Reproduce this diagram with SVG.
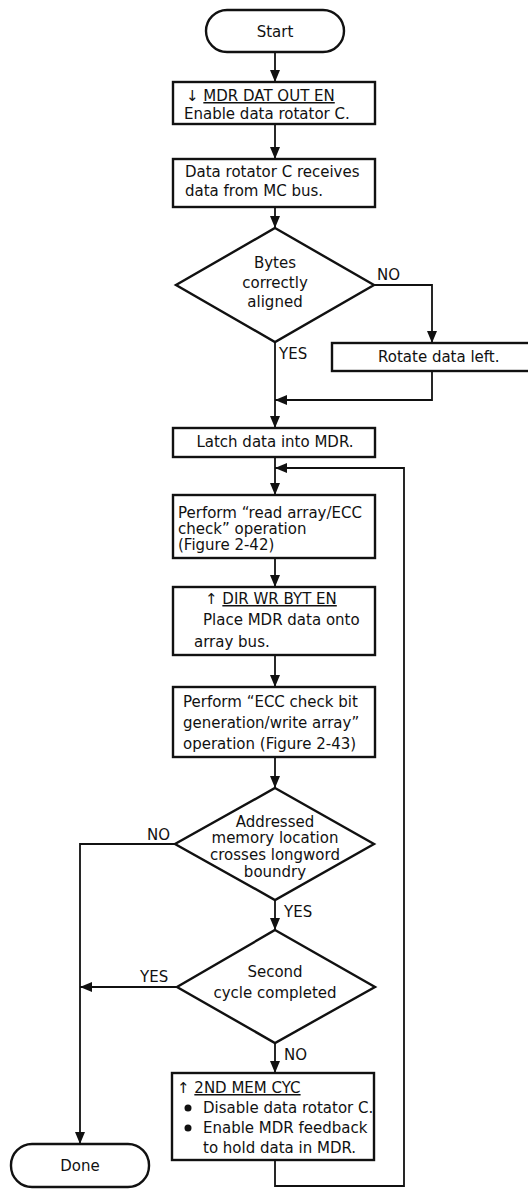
<svg xmlns="http://www.w3.org/2000/svg" width="528" height="1190" viewBox="0 0 528 1190">
<style>
 .box{fill:#fff;stroke:#111;stroke-width:2.4}
 .t{font-family:"DejaVu Sans","Liberation Sans",sans-serif;font-size:15px;fill:#111}
 .c{text-anchor:middle}
 .ln{fill:none;stroke:#111;stroke-width:1.8}
 .u{text-decoration:underline}
</style>
<defs>
 <marker id="ah" markerUnits="userSpaceOnUse" markerWidth="12" markerHeight="10" refX="12" refY="5" orient="auto"><path d="M0,0 L12,5 L0,10 z" fill="#111"/></marker>
</defs>
<rect width="528" height="1190" fill="#fff"/>

<g id="connectors">
 <path class="ln" d="M275,52 V82" marker-end="url(#ah)"/>
 <path class="ln" d="M275,124 V159" marker-end="url(#ah)"/>
 <path class="ln" d="M275,207 V228" marker-end="url(#ah)"/>
 <path class="ln" d="M275,342 V428" marker-end="url(#ah)"/>
 <path class="ln" d="M374,285 H432 V343" marker-end="url(#ah)"/>
 <path class="ln" d="M432,371 V400 H275" marker-end="url(#ah)"/>
 <path class="ln" d="M275,457 V495" marker-end="url(#ah)"/>
 <path class="ln" d="M275,558 V587" marker-end="url(#ah)"/>
 <path class="ln" d="M275,655 V687" marker-end="url(#ah)"/>
 <path class="ln" d="M275,757 V788" marker-end="url(#ah)"/>
 <path class="ln" d="M275,900 V930" marker-end="url(#ah)"/>
 <path class="ln" d="M175,844 H80 V1144" marker-end="url(#ah)"/>
 <path class="ln" d="M177,987 H80" marker-end="url(#ah)"/>
 <path class="ln" d="M275,1043 V1073" marker-end="url(#ah)"/>
 <path class="ln" d="M275,1160 V1186 H404 V468 H275" marker-end="url(#ah)"/>
 <text class="t" x="377" y="280">NO</text>
 <text class="t" x="279" y="359">YES</text>
 <text class="t" x="147" y="840">NO</text>
 <text class="t" x="284" y="917">YES</text>
 <text class="t" x="140" y="982">YES</text>
 <text class="t" x="284" y="1060">NO</text>
</g>

<g id="start">
 <rect class="box" x="206" y="10" width="138" height="42" rx="21"/>
 <text class="t c" x="275" y="37">Start</text>
</g>

<g id="enable-rotator">
 <rect class="box" x="173" y="82" width="202" height="42"/>
 <text class="t" x="186" y="101">↓ <tspan class="u">MDR DAT OUT EN</tspan></text>
 <text class="t" x="184" y="119">Enable data rotator C.</text>
</g>

<g id="rotator-receives">
 <rect class="box" x="173" y="159" width="202" height="48"/>
 <text class="t" x="185" y="177">Data rotator C receives</text>
 <text class="t" x="185" y="196">data from MC bus.</text>
</g>

<g id="bytes-aligned">
 <polygon class="box" points="275,228 374,285 275,342 176,285"/>
 <text class="t c" x="275" y="268">Bytes</text>
 <text class="t c" x="275" y="288">correctly</text>
 <text class="t c" x="275" y="307">aligned</text>
</g>

<g id="rotate-left">
 <rect class="box" x="332" y="343" width="210" height="28"/>
 <text class="t" x="378" y="362">Rotate data left.</text>
</g>

<g id="latch">
 <rect class="box" x="173" y="428" width="202" height="29"/>
 <text class="t c" x="275" y="447">Latch data into MDR.</text>
</g>

<g id="read-array">
 <rect class="box" x="173" y="495" width="202" height="63"/>
 <text class="t" x="178" y="518">Perform “read array/ECC</text>
 <text class="t" x="178" y="534">check” operation</text>
 <text class="t" x="178" y="550">(Figure 2-42)</text>
</g>

<g id="dir-wr">
 <rect class="box" x="173" y="587" width="202" height="68"/>
 <text class="t" x="205" y="604">↑ <tspan class="u">DIR WR BYT EN</tspan></text>
 <text class="t" x="203" y="625">Place MDR data onto</text>
 <text class="t" x="194" y="647">array bus.</text>
</g>

<g id="ecc-write">
 <rect class="box" x="173" y="687" width="202" height="70"/>
 <text class="t" x="183" y="707">Perform “ECC check bit</text>
 <text class="t" x="183" y="728">generation/write array”</text>
 <text class="t" x="183" y="749">operation (Figure 2-43)</text>
</g>

<g id="crosses-boundary">
 <polygon class="box" points="275,788 374,844 275,900 175,844"/>
 <text class="t c" x="275" y="827">Addressed</text>
 <text class="t c" x="275" y="843">memory location</text>
 <text class="t c" x="275" y="860">crosses longword</text>
 <text class="t c" x="275" y="877">boundry</text>
</g>

<g id="second-cycle">
 <polygon class="box" points="275,930 375,987 275,1043 177,987"/>
 <text class="t c" x="275" y="977">Second</text>
 <text class="t c" x="275" y="998">cycle completed</text>
</g>

<g id="second-mem-cyc">
 <rect class="box" x="172" y="1073" width="202" height="87"/>
 <text class="t" x="177" y="1093">↑ <tspan class="u">2ND MEM CYC</tspan></text>
 <circle cx="188" cy="1108" r="3.5" fill="#111"/>
 <text class="t" x="203" y="1113">Disable data rotator C.</text>
 <circle cx="188" cy="1128" r="3.5" fill="#111"/>
 <text class="t" x="203" y="1133">Enable MDR feedback</text>
 <text class="t" x="203" y="1153">to hold data in MDR.</text>
</g>

<g id="done">
 <rect class="box" x="11" y="1144" width="138" height="43" rx="21"/>
 <text class="t c" x="80" y="1171">Done</text>
</g>
</svg>
